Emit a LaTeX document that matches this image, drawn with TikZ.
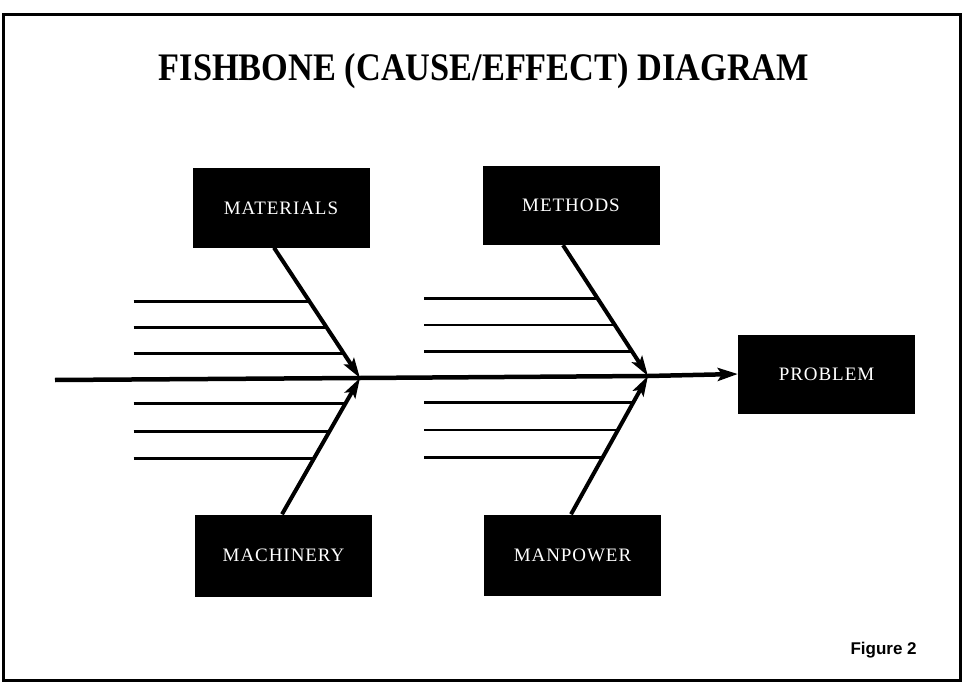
\documentclass[tikz,border=0pt]{standalone}
\usepackage{fontspec}
\setmainfont{Liberation Serif}
\newfontfamily\labelfont[LetterSpace=5]{Liberation Serif}
\newfontfamily\figfont{Liberation Sans}
\usetikzlibrary{arrows.meta,calc}
\begin{document}
\begin{tikzpicture}[x=1pt,y=-1pt,
  box/.style={fill=black, draw=none, minimum width=177pt, minimum height=79pt,
    inner sep=0pt, text=white, font=\labelfont\fontsize{19}{21}\selectfont},
  spine/.style={line width=4.5pt, -{Stealth[length=20pt,width=13pt,inset=4pt]}},
  bone/.style={line width=4pt, -{Stealth[length=20pt,width=12pt,inset=4pt]}},
  rib/.style={line width=2.8pt}]
\useasboundingbox (0,0) rectangle (964,682);
\fill[white] (0,0) rectangle (964,682);
\draw[line width=2.2pt] (3.5,14.5) rectangle (960.5,680.5);

\node[font=\fontsize{39}{41}\selectfont\bfseries, xscale=0.88] (title) at (484,71) {FISHBONE (CAUSE/EFFECT) DIAGRAM};

\node[box] (mat) at (281,208) {MATERIALS};
\node[box] (met) at (571,205.5) {METHODS};
\node[box] (prob) at (826.5,374) {PROBLEM};
\node[box, minimum height=82pt] (mach) at (283.5,555.5) {MACHINERY};
\node[box, minimum height=81pt] (man) at (572.5,555) {MANPOWER};

\coordinate (tail) at (55,380);
\coordinate (J1) at (360,378);
\coordinate (J2) at (648,376);
\coordinate (b1) at ($(mat.south)+(-7,0)$);
\coordinate (b2) at ($(met.south)+(-8,0)$);
\coordinate (b3) at ($(mach.north)+(-1.5,0)$);
\coordinate (b4) at ($(man.north)+(-1.5,0)$);
\coordinate (L1) at (133.5,0);
\coordinate (L2) at (424,0);

\foreach \t in {0.41,0.61,0.81} {
  \coordinate (r) at ($(b1)!\t!(J1)$);
  \draw[rib] (r -| L1) -- (r);
  \coordinate (r) at ($(b3)!\t!(J1)$);
  \draw[rib] (r -| L1) -- (r);
  \coordinate (r) at ($(b2)!\t!(J2)$);
  \draw[rib] (r -| L2) -- (r);
  \coordinate (r) at ($(b4)!\t!(J2)$);
  \draw[rib] (r -| L2) -- (r);
}

\draw[spine] (tail) -- (J1) -- (J2) -- (prob.west);
\draw[bone] (b1) -- (J1);
\draw[bone] (b3) -- (J1);
\draw[bone] (b2) -- (J2);
\draw[bone] (b4) -- (J2);

\node[anchor=base west, font=\figfont\bfseries\fontsize{17}{19}\selectfont] (fig) at (847,654) {Figure 2};
\end{tikzpicture}
\end{document}
